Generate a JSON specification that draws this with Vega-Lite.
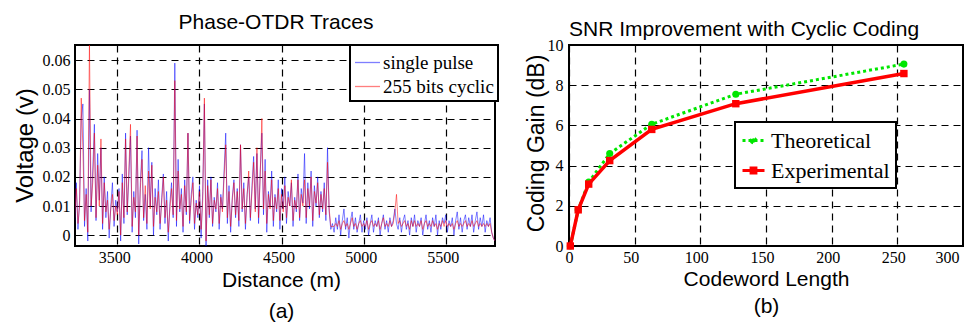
{
  "$schema": "https://vega.github.io/schema/vega-lite/v6.json",
  "background": "white",
  "padding": {"left": 12, "top": 11, "right": 0, "bottom": 0},
  "bounds": "flush",
  "spacing": 74,
  "resolve": {
    "scale": {"color": "independent", "opacity": "independent", "shape": "independent", "strokeDash": "independent", "fill": "independent", "stroke": "independent"},
    "legend": {"color": "independent", "opacity": "independent", "shape": "independent", "strokeDash": "independent", "fill": "independent", "stroke": "independent"}
  },
  "config": {
    "view": {"stroke": "black", "strokeWidth": 2},
    "axis": {"grid": true, "gridColor": "black", "gridDash": [7, 5], "gridWidth": 1.2, "gridOpacity": 1, "domain": false, "ticks": false, "labelFont": "Liberation Serif", "labelFontSize": 16, "labelColor": "black", "titleFont": "Liberation Sans", "titleFontWeight": "normal", "titleColor": "black"},
    "legend": {"labelFont": "Liberation Serif", "labelColor": "black", "strokeColor": "black", "fillColor": "white", "strokeWidth": 2, "cornerRadius": 0, "title": null, "orient": "none", "direction": "vertical"},
    "title": {"font": "Liberation Sans", "fontWeight": "normal", "color": "black", "anchor": "middle", "baseline": "alphabetic"}
  },
  "hconcat": [
    {
      "width": 420,
      "height": 201,
      "title": {"text": "Phase-OTDR Traces", "font": "Liberation Sans", "fontWeight": "normal", "color": "black", "fontSize": 21, "offset": 16, "dx": -9, "dy": 5},
      "data": {"values": [
        {"d":3240,"single pulse":0.004,"255 bits cyclic":0.006},
        {"d":3250,"single pulse":0.018,"255 bits cyclic":0.016},
        {"d":3260,"single pulse":0.002,"255 bits cyclic":0.004},
        {"d":3270,"single pulse":0.012,"255 bits cyclic":0.010},
        {"d":3280,"single pulse":0.040,"255 bits cyclic":0.047},
        {"d":3290,"single pulse":0.045,"255 bits cyclic":0.030},
        {"d":3300,"single pulse":0.003,"255 bits cyclic":0.005},
        {"d":3310,"single pulse":0.016,"255 bits cyclic":0.014},
        {"d":3320,"single pulse":-0.002,"255 bits cyclic":0.001},
        {"d":3330,"single pulse":0.050,"255 bits cyclic":0.066},
        {"d":3340,"single pulse":0.008,"255 bits cyclic":0.010},
        {"d":3350,"single pulse":0.022,"255 bits cyclic":0.018},
        {"d":3360,"single pulse":0.038,"255 bits cyclic":0.035},
        {"d":3370,"single pulse":0.005,"255 bits cyclic":0.006},
        {"d":3380,"single pulse":0.028,"255 bits cyclic":0.024},
        {"d":3390,"single pulse":0.012,"255 bits cyclic":0.010},
        {"d":3400,"single pulse":0.030,"255 bits cyclic":0.033},
        {"d":3410,"single pulse":0.002,"255 bits cyclic":0.004},
        {"d":3420,"single pulse":0.020,"255 bits cyclic":0.018},
        {"d":3430,"single pulse":0.006,"255 bits cyclic":0.008},
        {"d":3440,"single pulse":0.015,"255 bits cyclic":0.012},
        {"d":3450,"single pulse":-0.001,"255 bits cyclic":0.002},
        {"d":3460,"single pulse":0.010,"255 bits cyclic":0.009},
        {"d":3470,"single pulse":0.018,"255 bits cyclic":0.014},
        {"d":3480,"single pulse":0.003,"255 bits cyclic":0.005},
        {"d":3490,"single pulse":0.012,"255 bits cyclic":0.010},
        {"d":3500,"single pulse":0.008,"255 bits cyclic":0.007},
        {"d":3510,"single pulse":0.016,"255 bits cyclic":0.015},
        {"d":3520,"single pulse":-0.002,"255 bits cyclic":0.000},
        {"d":3530,"single pulse":0.021,"255 bits cyclic":0.018},
        {"d":3540,"single pulse":0.004,"255 bits cyclic":0.006},
        {"d":3550,"single pulse":0.035,"255 bits cyclic":0.033},
        {"d":3560,"single pulse":0.007,"255 bits cyclic":0.008},
        {"d":3570,"single pulse":0.020,"255 bits cyclic":0.022},
        {"d":3580,"single pulse":0.034,"255 bits cyclic":0.038},
        {"d":3590,"single pulse":0.001,"255 bits cyclic":0.003},
        {"d":3600,"single pulse":0.015,"255 bits cyclic":0.013},
        {"d":3610,"single pulse":0.006,"255 bits cyclic":0.008},
        {"d":3620,"single pulse":0.036,"255 bits cyclic":0.034},
        {"d":3630,"single pulse":-0.003,"255 bits cyclic":0.000},
        {"d":3640,"single pulse":0.018,"255 bits cyclic":0.016},
        {"d":3650,"single pulse":0.029,"255 bits cyclic":0.026},
        {"d":3660,"single pulse":0.005,"255 bits cyclic":0.006},
        {"d":3670,"single pulse":0.014,"255 bits cyclic":0.017},
        {"d":3680,"single pulse":0.002,"255 bits cyclic":0.004},
        {"d":3690,"single pulse":0.030,"255 bits cyclic":0.022},
        {"d":3700,"single pulse":0.010,"255 bits cyclic":0.009},
        {"d":3710,"single pulse":0.025,"255 bits cyclic":0.024},
        {"d":3720,"single pulse":0.000,"255 bits cyclic":0.003},
        {"d":3730,"single pulse":0.016,"255 bits cyclic":0.013},
        {"d":3740,"single pulse":0.007,"255 bits cyclic":0.008},
        {"d":3750,"single pulse":0.019,"255 bits cyclic":0.015},
        {"d":3760,"single pulse":0.002,"255 bits cyclic":0.004},
        {"d":3770,"single pulse":0.013,"255 bits cyclic":0.011},
        {"d":3780,"single pulse":0.021,"255 bits cyclic":0.020},
        {"d":3790,"single pulse":0.004,"255 bits cyclic":0.006},
        {"d":3800,"single pulse":0.015,"255 bits cyclic":0.012},
        {"d":3810,"single pulse":-0.002,"255 bits cyclic":0.001},
        {"d":3820,"single pulse":0.011,"255 bits cyclic":0.009},
        {"d":3830,"single pulse":0.018,"255 bits cyclic":0.016},
        {"d":3840,"single pulse":0.006,"255 bits cyclic":0.007},
        {"d":3850,"single pulse":0.059,"255 bits cyclic":0.053},
        {"d":3860,"single pulse":0.003,"255 bits cyclic":0.005},
        {"d":3870,"single pulse":0.026,"255 bits cyclic":0.022},
        {"d":3880,"single pulse":0.008,"255 bits cyclic":0.009},
        {"d":3890,"single pulse":0.016,"255 bits cyclic":0.014},
        {"d":3900,"single pulse":0.001,"255 bits cyclic":0.003},
        {"d":3910,"single pulse":0.019,"255 bits cyclic":0.017},
        {"d":3920,"single pulse":0.007,"255 bits cyclic":0.008},
        {"d":3930,"single pulse":0.035,"255 bits cyclic":0.035},
        {"d":3940,"single pulse":0.004,"255 bits cyclic":0.005},
        {"d":3950,"single pulse":0.014,"255 bits cyclic":0.012},
        {"d":3960,"single pulse":0.020,"255 bits cyclic":0.018},
        {"d":3970,"single pulse":0.002,"255 bits cyclic":0.004},
        {"d":3980,"single pulse":0.012,"255 bits cyclic":0.011},
        {"d":3990,"single pulse":0.006,"255 bits cyclic":0.007},
        {"d":4000,"single pulse":0.017,"255 bits cyclic":0.015},
        {"d":4010,"single pulse":-0.001,"255 bits cyclic":0.002},
        {"d":4020,"single pulse":0.015,"255 bits cyclic":0.012},
        {"d":4030,"single pulse":0.045,"255 bits cyclic":0.047},
        {"d":4040,"single pulse":-0.004,"255 bits cyclic":-0.002},
        {"d":4050,"single pulse":0.019,"255 bits cyclic":0.017},
        {"d":4060,"single pulse":0.006,"255 bits cyclic":0.007},
        {"d":4070,"single pulse":0.020,"255 bits cyclic":0.019},
        {"d":4080,"single pulse":0.003,"255 bits cyclic":0.004},
        {"d":4090,"single pulse":0.013,"255 bits cyclic":0.012},
        {"d":4100,"single pulse":0.008,"255 bits cyclic":0.009},
        {"d":4110,"single pulse":0.018,"255 bits cyclic":0.016},
        {"d":4120,"single pulse":0.002,"255 bits cyclic":0.004},
        {"d":4130,"single pulse":0.014,"255 bits cyclic":0.013},
        {"d":4140,"single pulse":0.009,"255 bits cyclic":0.008},
        {"d":4150,"single pulse":0.022,"255 bits cyclic":0.020},
        {"d":4160,"single pulse":0.035,"255 bits cyclic":0.031},
        {"d":4170,"single pulse":0.004,"255 bits cyclic":0.006},
        {"d":4180,"single pulse":0.017,"255 bits cyclic":0.015},
        {"d":4190,"single pulse":0.001,"255 bits cyclic":0.003},
        {"d":4200,"single pulse":0.013,"255 bits cyclic":0.012},
        {"d":4210,"single pulse":0.019,"255 bits cyclic":0.018},
        {"d":4220,"single pulse":0.006,"255 bits cyclic":0.007},
        {"d":4230,"single pulse":0.016,"255 bits cyclic":0.015},
        {"d":4240,"single pulse":0.003,"255 bits cyclic":0.005},
        {"d":4250,"single pulse":0.031,"255 bits cyclic":0.031},
        {"d":4260,"single pulse":0.008,"255 bits cyclic":0.009},
        {"d":4270,"single pulse":0.018,"255 bits cyclic":0.016},
        {"d":4280,"single pulse":0.002,"255 bits cyclic":0.004},
        {"d":4290,"single pulse":0.014,"255 bits cyclic":0.013},
        {"d":4300,"single pulse":0.020,"255 bits cyclic":0.022},
        {"d":4310,"single pulse":0.005,"255 bits cyclic":0.006},
        {"d":4320,"single pulse":0.017,"255 bits cyclic":0.015},
        {"d":4330,"single pulse":0.027,"255 bits cyclic":0.025},
        {"d":4340,"single pulse":0.009,"255 bits cyclic":0.008},
        {"d":4350,"single pulse":0.028,"255 bits cyclic":0.030},
        {"d":4360,"single pulse":0.004,"255 bits cyclic":0.006},
        {"d":4370,"single pulse":0.022,"255 bits cyclic":0.020},
        {"d":4380,"single pulse":0.035,"255 bits cyclic":0.040},
        {"d":4390,"single pulse":0.007,"255 bits cyclic":0.009},
        {"d":4400,"single pulse":0.026,"255 bits cyclic":0.022},
        {"d":4410,"single pulse":0.001,"255 bits cyclic":0.004},
        {"d":4420,"single pulse":0.015,"255 bits cyclic":0.014},
        {"d":4430,"single pulse":0.010,"255 bits cyclic":0.009},
        {"d":4440,"single pulse":0.022,"255 bits cyclic":0.019},
        {"d":4450,"single pulse":0.003,"255 bits cyclic":0.005},
        {"d":4460,"single pulse":0.014,"255 bits cyclic":0.013},
        {"d":4470,"single pulse":0.008,"255 bits cyclic":0.009},
        {"d":4480,"single pulse":0.019,"255 bits cyclic":0.016},
        {"d":4490,"single pulse":0.002,"255 bits cyclic":0.005},
        {"d":4500,"single pulse":0.016,"255 bits cyclic":0.014},
        {"d":4510,"single pulse":0.009,"255 bits cyclic":0.008},
        {"d":4520,"single pulse":0.020,"255 bits cyclic":0.017},
        {"d":4530,"single pulse":0.004,"255 bits cyclic":0.006},
        {"d":4540,"single pulse":0.015,"255 bits cyclic":0.013},
        {"d":4550,"single pulse":0.010,"255 bits cyclic":0.010},
        {"d":4560,"single pulse":0.018,"255 bits cyclic":0.019},
        {"d":4570,"single pulse":0.003,"255 bits cyclic":0.005},
        {"d":4580,"single pulse":0.013,"255 bits cyclic":0.012},
        {"d":4590,"single pulse":0.008,"255 bits cyclic":0.009},
        {"d":4600,"single pulse":0.021,"255 bits cyclic":0.019},
        {"d":4610,"single pulse":0.005,"255 bits cyclic":0.006},
        {"d":4620,"single pulse":0.016,"255 bits cyclic":0.014},
        {"d":4630,"single pulse":0.011,"255 bits cyclic":0.010},
        {"d":4640,"single pulse":0.028,"255 bits cyclic":0.019},
        {"d":4650,"single pulse":0.004,"255 bits cyclic":0.006},
        {"d":4660,"single pulse":0.018,"255 bits cyclic":0.016},
        {"d":4670,"single pulse":0.009,"255 bits cyclic":0.010},
        {"d":4680,"single pulse":0.022,"255 bits cyclic":0.020},
        {"d":4690,"single pulse":0.003,"255 bits cyclic":0.005},
        {"d":4700,"single pulse":0.017,"255 bits cyclic":0.015},
        {"d":4710,"single pulse":0.010,"255 bits cyclic":0.011},
        {"d":4720,"single pulse":0.020,"255 bits cyclic":0.018},
        {"d":4730,"single pulse":0.006,"255 bits cyclic":0.007},
        {"d":4740,"single pulse":0.015,"255 bits cyclic":0.014},
        {"d":4750,"single pulse":0.008,"255 bits cyclic":0.009},
        {"d":4760,"single pulse":0.018,"255 bits cyclic":0.016},
        {"d":4770,"single pulse":0.005,"255 bits cyclic":0.007},
        {"d":4780,"single pulse":0.030,"255 bits cyclic":0.025},
        {"d":4790,"single pulse":0.008,"255 bits cyclic":0.009},
        {"d":4800,"single pulse":0.002,"255 bits cyclic":0.003},
        {"d":4810,"single pulse":0.004,"255 bits cyclic":0.003},
        {"d":4820,"single pulse":0.001,"255 bits cyclic":0.003},
        {"d":4830,"single pulse":0.006,"255 bits cyclic":0.004},
        {"d":4840,"single pulse":0.002,"255 bits cyclic":0.003},
        {"d":4850,"single pulse":0.007,"255 bits cyclic":0.005},
        {"d":4860,"single pulse":0.000,"255 bits cyclic":0.002},
        {"d":4870,"single pulse":0.005,"255 bits cyclic":0.004},
        {"d":4880,"single pulse":0.009,"255 bits cyclic":0.005},
        {"d":4890,"single pulse":0.002,"255 bits cyclic":0.003},
        {"d":4900,"single pulse":0.006,"255 bits cyclic":0.004},
        {"d":4910,"single pulse":-0.001,"255 bits cyclic":0.002},
        {"d":4920,"single pulse":0.005,"255 bits cyclic":0.004},
        {"d":4930,"single pulse":0.008,"255 bits cyclic":0.006},
        {"d":4940,"single pulse":0.002,"255 bits cyclic":0.003},
        {"d":4950,"single pulse":0.006,"255 bits cyclic":0.004},
        {"d":4960,"single pulse":0.001,"255 bits cyclic":0.002},
        {"d":4970,"single pulse":0.004,"255 bits cyclic":0.004},
        {"d":4980,"single pulse":0.007,"255 bits cyclic":0.005},
        {"d":4990,"single pulse":0.001,"255 bits cyclic":0.003},
        {"d":5000,"single pulse":0.005,"255 bits cyclic":0.004},
        {"d":5010,"single pulse":0.002,"255 bits cyclic":0.003},
        {"d":5020,"single pulse":0.006,"255 bits cyclic":0.005},
        {"d":5030,"single pulse":0.000,"255 bits cyclic":0.002},
        {"d":5040,"single pulse":0.004,"255 bits cyclic":0.004},
        {"d":5050,"single pulse":0.007,"255 bits cyclic":0.005},
        {"d":5060,"single pulse":0.001,"255 bits cyclic":0.003},
        {"d":5070,"single pulse":0.005,"255 bits cyclic":0.004},
        {"d":5080,"single pulse":0.003,"255 bits cyclic":0.003},
        {"d":5090,"single pulse":0.006,"255 bits cyclic":0.005},
        {"d":5100,"single pulse":0.000,"255 bits cyclic":0.002},
        {"d":5110,"single pulse":0.004,"255 bits cyclic":0.004},
        {"d":5120,"single pulse":0.007,"255 bits cyclic":0.006},
        {"d":5130,"single pulse":0.002,"255 bits cyclic":0.003},
        {"d":5140,"single pulse":0.005,"255 bits cyclic":0.004},
        {"d":5150,"single pulse":0.001,"255 bits cyclic":0.003},
        {"d":5160,"single pulse":0.006,"255 bits cyclic":0.005},
        {"d":5170,"single pulse":0.003,"255 bits cyclic":0.003},
        {"d":5180,"single pulse":0.005,"255 bits cyclic":0.004},
        {"d":5190,"single pulse":0.009,"255 bits cyclic":0.008},
        {"d":5200,"single pulse":0.004,"255 bits cyclic":0.014},
        {"d":5210,"single pulse":0.002,"255 bits cyclic":0.004},
        {"d":5220,"single pulse":0.006,"255 bits cyclic":0.005},
        {"d":5230,"single pulse":0.001,"255 bits cyclic":0.003},
        {"d":5240,"single pulse":0.005,"255 bits cyclic":0.004},
        {"d":5250,"single pulse":0.007,"255 bits cyclic":0.005},
        {"d":5260,"single pulse":0.002,"255 bits cyclic":0.003},
        {"d":5270,"single pulse":0.005,"255 bits cyclic":0.004},
        {"d":5280,"single pulse":0.000,"255 bits cyclic":0.002},
        {"d":5290,"single pulse":0.006,"255 bits cyclic":0.005},
        {"d":5300,"single pulse":0.003,"255 bits cyclic":0.003},
        {"d":5310,"single pulse":0.007,"255 bits cyclic":0.005},
        {"d":5320,"single pulse":0.001,"255 bits cyclic":0.003},
        {"d":5330,"single pulse":0.005,"255 bits cyclic":0.004},
        {"d":5340,"single pulse":0.003,"255 bits cyclic":0.003},
        {"d":5350,"single pulse":0.006,"255 bits cyclic":0.005},
        {"d":5360,"single pulse":0.000,"255 bits cyclic":0.002},
        {"d":5370,"single pulse":0.004,"255 bits cyclic":0.004},
        {"d":5380,"single pulse":0.007,"255 bits cyclic":0.005},
        {"d":5390,"single pulse":0.002,"255 bits cyclic":0.003},
        {"d":5400,"single pulse":0.005,"255 bits cyclic":0.004},
        {"d":5410,"single pulse":0.001,"255 bits cyclic":0.003},
        {"d":5420,"single pulse":0.006,"255 bits cyclic":0.005},
        {"d":5430,"single pulse":0.003,"255 bits cyclic":0.003},
        {"d":5440,"single pulse":0.007,"255 bits cyclic":0.004},
        {"d":5450,"single pulse":0.000,"255 bits cyclic":0.002},
        {"d":5460,"single pulse":0.005,"255 bits cyclic":0.004},
        {"d":5470,"single pulse":0.002,"255 bits cyclic":0.003},
        {"d":5480,"single pulse":0.006,"255 bits cyclic":0.005},
        {"d":5490,"single pulse":0.004,"255 bits cyclic":0.003},
        {"d":5500,"single pulse":0.007,"255 bits cyclic":0.005},
        {"d":5510,"single pulse":0.001,"255 bits cyclic":0.003},
        {"d":5520,"single pulse":0.005,"255 bits cyclic":0.004},
        {"d":5530,"single pulse":0.003,"255 bits cyclic":0.003},
        {"d":5540,"single pulse":0.006,"255 bits cyclic":0.004},
        {"d":5550,"single pulse":0.000,"255 bits cyclic":0.002},
        {"d":5560,"single pulse":0.005,"255 bits cyclic":0.004},
        {"d":5570,"single pulse":0.008,"255 bits cyclic":0.005},
        {"d":5580,"single pulse":0.002,"255 bits cyclic":0.003},
        {"d":5590,"single pulse":0.006,"255 bits cyclic":0.004},
        {"d":5600,"single pulse":0.001,"255 bits cyclic":0.003},
        {"d":5610,"single pulse":0.005,"255 bits cyclic":0.004},
        {"d":5620,"single pulse":0.007,"255 bits cyclic":0.005},
        {"d":5630,"single pulse":0.002,"255 bits cyclic":0.003},
        {"d":5640,"single pulse":0.006,"255 bits cyclic":0.004},
        {"d":5650,"single pulse":0.003,"255 bits cyclic":0.003},
        {"d":5660,"single pulse":0.007,"255 bits cyclic":0.005},
        {"d":5670,"single pulse":0.001,"255 bits cyclic":0.003},
        {"d":5680,"single pulse":0.005,"255 bits cyclic":0.004},
        {"d":5690,"single pulse":0.008,"255 bits cyclic":0.005},
        {"d":5700,"single pulse":0.002,"255 bits cyclic":0.003},
        {"d":5710,"single pulse":0.006,"255 bits cyclic":0.004},
        {"d":5720,"single pulse":0.003,"255 bits cyclic":0.003},
        {"d":5730,"single pulse":0.007,"255 bits cyclic":0.004},
        {"d":5740,"single pulse":0.001,"255 bits cyclic":0.003},
        {"d":5750,"single pulse":0.005,"255 bits cyclic":0.004},
        {"d":5760,"single pulse":0.003,"255 bits cyclic":0.003},
        {"d":5770,"single pulse":0.006,"255 bits cyclic":0.004},
        {"d":5780,"single pulse":0.001,"255 bits cyclic":0.001},
        {"d":5790,"single pulse":-0.001,"255 bits cyclic":-0.001},
        {"d":5800,"single pulse":-0.002,"255 bits cyclic":-0.002}
      ]},
      "transform": [{"fold": ["single pulse", "255 bits cyclic"], "as": ["series", "v"]}],
      "mark": {"type": "line", "strokeWidth": 1, "clip": true},
      "encoding": {
        "x": {"field": "d", "type": "quantitative", "scale": {"domain": [3242, 5800], "nice": false, "zero": false},
              "axis": {"values": [3500, 4000, 4500, 5000, 5500], "format": "d", "labelFont": "Liberation Serif", "labelFontSize": 16, "labelColor": "black", "labelPadding": 3, "labelOffset": -3, "title": ["Distance (m)", "(a)"], "titleFont": "Liberation Sans", "titleFontWeight": "normal", "titleColor": "black", "titleFontSize": 21, "titleBaseline": "alphabetic", "titleX": 206, "titleY": 40, "titleLineHeight": 31}},
        "y": {"field": "v", "type": "quantitative", "scale": {"domain": [-0.0037, 0.0652], "nice": false, "zero": false},
              "axis": {"values": [0, 0.01, 0.02, 0.03, 0.04, 0.05, 0.06], "format": "~g", "labelFont": "Liberation Serif", "labelFontSize": 16, "labelColor": "black", "labelPadding": 5, "title": "Voltage (v)", "titleFont": "Liberation Sans", "titleFontWeight": "normal", "titleColor": "black", "titleFontSize": 24, "titleBaseline": "alphabetic", "titleAngle": -90, "titleAlign": "center", "titleX": -43, "titleY": 100}},
        "color": {"field": "series", "type": "nominal", "scale": {"domain": ["single pulse", "255 bits cyclic"], "range": ["#0000ff", "#ff0000"]},
                  "legend": {"orient": "none", "legendX": 275, "legendY": 0, "title": null, "labelFont": "Liberation Serif", "labelColor": "black", "labelFontSize": 19, "symbolSize": 625, "symbolStrokeWidth": 1.3, "symbolOpacity": 1, "padding": 4, "rowPadding": 0, "labelOffset": 2, "strokeColor": "black", "fillColor": "white"}},
        "opacity": {"field": "series", "type": "nominal", "scale": {"domain": ["single pulse", "255 bits cyclic"], "range": [0.5, 0.5]}, "legend": null}
      }
    },
    {
      "width": 394,
      "height": 201,
      "title": {"text": "SNR Improvement with Cyclic Coding", "font": "Liberation Sans", "fontWeight": "normal", "color": "black", "fontSize": 21, "offset": 4, "dx": -22, "dy": 7},
      "data": {"values": [
        {"L": 1, "s": "Theoretical", "g": 0},
        {"L": 7, "s": "Theoretical", "g": 1.8},
        {"L": 15, "s": "Theoretical", "g": 3.18},
        {"L": 31, "s": "Theoretical", "g": 4.6},
        {"L": 63, "s": "Theoretical", "g": 6.06},
        {"L": 127, "s": "Theoretical", "g": 7.55},
        {"L": 255, "s": "Theoretical", "g": 9.05},
        {"L": 1, "s": "Experimental", "g": 0},
        {"L": 7, "s": "Experimental", "g": 1.8},
        {"L": 15, "s": "Experimental", "g": 3.08},
        {"L": 31, "s": "Experimental", "g": 4.25},
        {"L": 63, "s": "Experimental", "g": 5.8},
        {"L": 127, "s": "Experimental", "g": 7.08},
        {"L": 255, "s": "Experimental", "g": 8.58}
      ]},
      "encoding": {
        "x": {"field": "L", "type": "quantitative", "scale": {"domain": [0, 300], "nice": false},
              "axis": {"values": [0, 50, 100, 150, 200, 250, 300], "format": "d", "labelFont": "Liberation Serif", "labelFontSize": 16, "labelColor": "black", "labelPadding": 3, "labelOffset": -4, "title": ["Codeword Length", "(b)"], "titleFont": "Liberation Sans", "titleFontWeight": "normal", "titleColor": "black", "titleFontSize": 21, "titleBaseline": "alphabetic", "titleX": 197, "titleY": 39, "titleLineHeight": 27}},
        "y": {"field": "g", "type": "quantitative", "scale": {"domain": [0, 10], "nice": false},
              "axis": {"values": [0, 2, 4, 6, 8, 10], "format": "d", "labelFont": "Liberation Serif", "labelFontSize": 16, "labelColor": "black", "labelPadding": 6, "title": "Coding Gain (dB)", "titleFont": "Liberation Sans", "titleFontWeight": "normal", "titleColor": "black", "titleFontSize": 23, "titleBaseline": "alphabetic", "titleAngle": -90, "titleAlign": "center", "titleX": -26, "titleY": 98}}
      },
      "layer": [
        {"transform": [{"filter": {"field": "s", "equal": "Theoretical"}}], "mark": {"type": "line", "color": "#00e600", "strokeWidth": 3, "strokeDash": [3, 3]}},
        {"transform": [{"filter": {"field": "s", "equal": "Theoretical"}}], "mark": {"type": "point", "shape": "circle", "filled": true, "color": "#00e600", "size": 50, "opacity": 1}},
        {"transform": [{"filter": {"field": "s", "equal": "Experimental"}}], "mark": {"type": "line", "color": "#ff0000", "strokeWidth": 3.5}},
        {"transform": [{"filter": {"field": "s", "equal": "Experimental"}}], "mark": {"type": "point", "shape": "square", "filled": true, "color": "#ff0000", "size": 55, "opacity": 1}},
        {"mark": {"type": "point", "opacity": 0, "size": 484, "strokeWidth": 3},
         "encoding": {
           "shape": {"field": "s", "type": "nominal", "scale": {"domain": ["Theoretical", "Experimental"], "range": ["M-1,0L1,0M-0.2,0A0.2,0.2 0 1,0 0.2,0A0.2,0.2 0 1,0 -0.2,0Z", "M-1,0L1,0M-0.22,-0.22L0.22,-0.22L0.22,0.22L-0.22,0.22Z"]},
                     "legend": {"orient": "none", "legendX": 166, "legendY": 77, "title": null, "labelFont": "Liberation Serif", "labelColor": "black", "labelFontSize": 22, "symbolSize": 484, "symbolStrokeWidth": 3, "symbolOpacity": 1, "padding": 6, "rowPadding": 6, "labelOffset": 5, "strokeColor": "black", "fillColor": "white"}},
           "fill": {"field": "s", "type": "nominal", "scale": {"domain": ["Theoretical", "Experimental"], "range": ["#00e600", "#ff0000"]},
                     "legend": {"orient": "none", "legendX": 166, "legendY": 77, "title": null, "labelFont": "Liberation Serif", "labelColor": "black", "labelFontSize": 22, "symbolSize": 484, "symbolStrokeWidth": 3, "symbolOpacity": 1, "padding": 6, "rowPadding": 6, "labelOffset": 5, "strokeColor": "black", "fillColor": "white"}},
           "stroke": {"field": "s", "type": "nominal", "scale": {"domain": ["Theoretical", "Experimental"], "range": ["#00e600", "#ff0000"]},
                     "legend": {"orient": "none", "legendX": 166, "legendY": 77, "title": null, "labelFont": "Liberation Serif", "labelColor": "black", "labelFontSize": 22, "symbolSize": 484, "symbolStrokeWidth": 3, "symbolOpacity": 1, "padding": 6, "rowPadding": 6, "labelOffset": 5, "strokeColor": "black", "fillColor": "white"}},
           "strokeDash": {"field": "s", "type": "nominal", "scale": {"domain": ["Theoretical", "Experimental"], "range": [[3, 3], [1, 0]]},
                     "legend": {"orient": "none", "legendX": 166, "legendY": 77, "title": null, "labelFont": "Liberation Serif", "labelColor": "black", "labelFontSize": 22, "symbolSize": 484, "symbolStrokeWidth": 3, "symbolOpacity": 1, "padding": 6, "rowPadding": 6, "labelOffset": 5, "strokeColor": "black", "fillColor": "white"}}
         }}
      ]
    }
  ]
}
